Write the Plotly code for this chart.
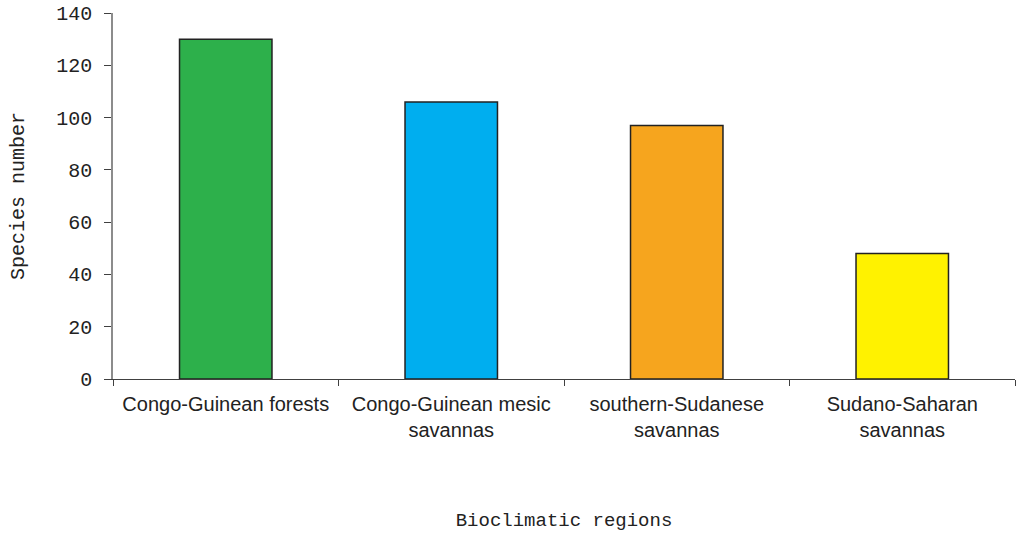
import plotly.graph_objects as go

# Species counts per bioclimatic region
regions = [
    "Congo-Guinean forests",
    "Congo-Guinean mesic<br>savannas",
    "southern-Sudanese<br>savannas",
    "Sudano-Saharan<br>savannas",
]
species_number = [130, 106, 97, 48]
bar_colors = ["#2DB04B", "#00AEEF", "#F6A51E", "#FFF200"]
y_ticks = [0, 20, 40, 60, 80, 100, 120, 140]

mono = "Liberation Mono, Courier New, monospace"
sans = "Liberation Sans, Arial, sans-serif"

fig = go.Figure(
    go.Bar(
        x=regions,
        y=species_number,
        marker=dict(color=bar_colors, line=dict(color="#222222", width=1.5)),
    )
)

fig.update_layout(
    width=1019,
    height=537,
    margin=dict(l=113, r=4, t=13, b=158),
    paper_bgcolor="white",
    plot_bgcolor="white",
    bargap=0.59,
    showlegend=False,
)

fig.update_xaxes(
    type="category",
    showline=True,
    linecolor="#404040",
    linewidth=1,
    ticks="outside",
    tickson="boundaries",
    ticklen=6,
    tickcolor="#404040",
    ticklabelstandoff=7,
    tickfont=dict(family=sans, size=20, color="#222222"),
    showgrid=False,
    title=dict(
        text="Bioclimatic regions",
        font=dict(family=mono, size=19, color="#222222"),
        standoff=72,
    ),
)

fig.update_yaxes(
    range=[0, 140],
    tickvals=y_ticks,
    showline=True,
    linecolor="#8C8C8C",
    linewidth=1.5,
    ticks="outside",
    ticklen=7,
    tickcolor="#404040",
    ticklabelstandoff=8,
    tickfont=dict(family=mono, size=20, color="#222222"),
    showgrid=False,
    zeroline=False,
    title=dict(
        text="Species number",
        font=dict(family=mono, size=20, color="#222222"),
        standoff=26,
    ),
)

fig.write_html("out.html")
